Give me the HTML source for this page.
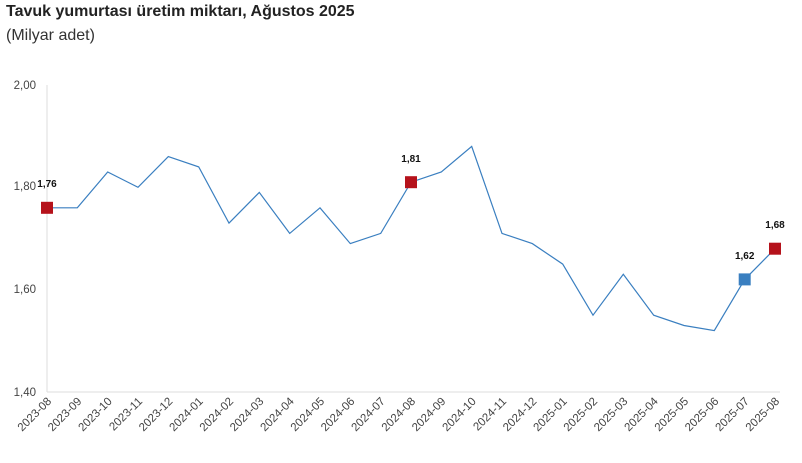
<!DOCTYPE html>
<html><head><meta charset="utf-8"><style>
body{margin:0;background:#fff;width:802px;height:458px;overflow:hidden;font-family:"Liberation Sans",sans-serif}
</style></head><body>
<svg width="802" height="458" xmlns="http://www.w3.org/2000/svg" font-family="Liberation Sans, sans-serif">
<text x="6" y="16" font-size="16" font-weight="bold" fill="#222">Tavuk yumurtası üretim miktarı, Ağustos 2025</text>
<text x="6" y="40" font-size="16" fill="#333">(Milyar adet)</text>
<line x1="47" y1="85" x2="47" y2="392" stroke="#ddd"/>
<line x1="47" y1="392" x2="780" y2="392" stroke="#ddd"/>
<g font-size="11.5" fill="#444" text-anchor="end">
<text x="36" y="89">2,00</text><text x="36" y="190">1,80</text><text x="36" y="293">1,60</text><text x="36" y="396">1,40</text>
</g>
<polyline fill="none" stroke="#3a7fc0" stroke-width="1.2" points="47,207.8 77.3,207.8 107.7,172 138,187.3 168.3,156.6 198.7,166.9 229,223.1 259.3,192.4 289.7,233.4 320,207.8 350.3,243.6 380.7,233.4 411,182.2 441.3,172 471.7,146.4 502,233.4 532.3,243.6 562.7,264.1 593,315.2 623.3,274.3 653.7,315.2 684,325.5 714.3,330.6 744.7,279.4 775,248.7"/>
<rect x="41" y="201.8" width="12" height="12" fill="#b5121b"/>
<rect x="405" y="176.2" width="12" height="12" fill="#b5121b"/>
<rect x="738.7" y="273.4" width="12" height="12" fill="#3a7fc0"/>
<rect x="769" y="242.7" width="12" height="12" fill="#b5121b"/>
<g font-size="10" font-weight="bold" fill="#111" text-anchor="middle">
<text x="47" y="187">1,76</text><text x="411" y="162">1,81</text><text x="744.7" y="259">1,62</text><text x="775" y="228">1,68</text>
</g>
<g font-size="11.5" fill="#444" text-anchor="end">
<text transform="translate(52,402) rotate(-45)">2023-08</text>
<text transform="translate(82.3,402) rotate(-45)">2023-09</text>
<text transform="translate(112.7,402) rotate(-45)">2023-10</text>
<text transform="translate(143,402) rotate(-45)">2023-11</text>
<text transform="translate(173.3,402) rotate(-45)">2023-12</text>
<text transform="translate(203.7,402) rotate(-45)">2024-01</text>
<text transform="translate(234,402) rotate(-45)">2024-02</text>
<text transform="translate(264.3,402) rotate(-45)">2024-03</text>
<text transform="translate(294.7,402) rotate(-45)">2024-04</text>
<text transform="translate(325,402) rotate(-45)">2024-05</text>
<text transform="translate(355.3,402) rotate(-45)">2024-06</text>
<text transform="translate(385.7,402) rotate(-45)">2024-07</text>
<text transform="translate(416,402) rotate(-45)">2024-08</text>
<text transform="translate(446.3,402) rotate(-45)">2024-09</text>
<text transform="translate(476.7,402) rotate(-45)">2024-10</text>
<text transform="translate(507,402) rotate(-45)">2024-11</text>
<text transform="translate(537.3,402) rotate(-45)">2024-12</text>
<text transform="translate(567.7,402) rotate(-45)">2025-01</text>
<text transform="translate(598,402) rotate(-45)">2025-02</text>
<text transform="translate(628.3,402) rotate(-45)">2025-03</text>
<text transform="translate(658.7,402) rotate(-45)">2025-04</text>
<text transform="translate(689,402) rotate(-45)">2025-05</text>
<text transform="translate(719.3,402) rotate(-45)">2025-06</text>
<text transform="translate(749.7,402) rotate(-45)">2025-07</text>
<text transform="translate(780,402) rotate(-45)">2025-08</text>
</g>
</svg>
</body></html>
